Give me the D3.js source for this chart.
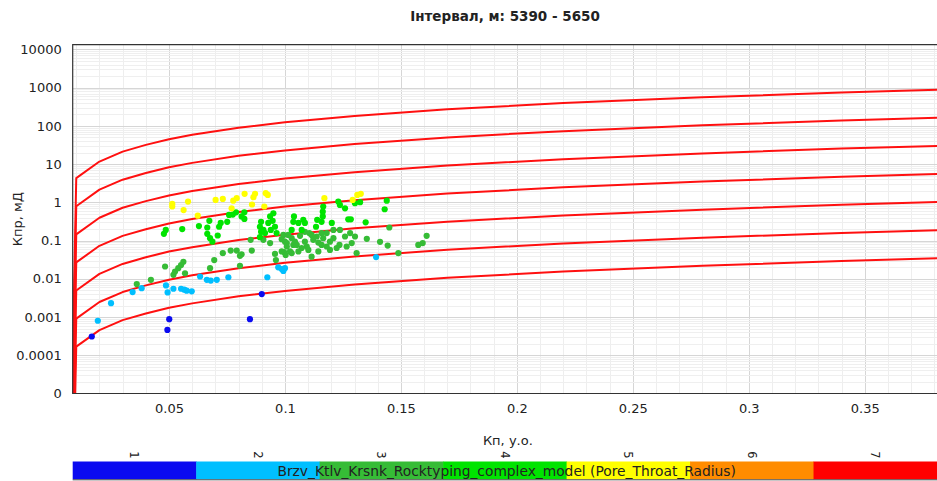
<!DOCTYPE html>
<html>
<head>
<meta charset="utf-8">
<script src="https://cdn.jsdelivr.net/npm/d3@7"></script>
<style>
  html, body { margin: 0; padding: 0; background: #fff; }
  svg { display: block; }
  text { font-family: "DejaVu Sans", Verdana, sans-serif; fill: #222; }
</style>
</head>
<body>
<svg id="chart" width="937" height="481"></svg>
<script>
// ---- data ----------------------------------------------------------------
const chartTitle = "Інтервал, м: 5390 - 5650";
const xTitle = "Кп, у.о.";
const yTitle = "Кпр, мД";
const legendTitle = "Brzv_Ktlv_Krsnk_Rocktyping_complex_model (Pore_Throat_Radius)";

const xTicks = [0.05, 0.1, 0.15, 0.2, 0.25, 0.3, 0.35];
const yTicks = [1e-5, 1e-4, 1e-3, 1e-2, 1e-1, 1, 10, 100, 1000, 10000];
const yTickLabels = ["0", "0.0001", "0.001", "0.01", "0.1", "1", "10", "100", "1000", "10000"];

// porosity samples of the rock-type boundary curves
const curvePhi = [0, 0.01, 0.02, 0.03, 0.04, 0.05, 0.06, 0.08, 0.10, 0.13, 0.17, 0.22, 0.28, 0.34, 0.39];
// permeability (mD) of each boundary curve at those porosities
const boundary1 = [0, 4.3, 11.7, 21.3, 31.9, 44.9, 58.5, 89.7, 124, 182, 272, 397, 562, 751, 916];
const boundary2 = [0, 0.79, 2.15, 3.92, 5.87, 8.27, 10.8, 16.5, 22.8, 33.5, 50.1, 73.1, 103.5, 138, 169];
const boundary3 = [0, 0.146, 0.397, 0.722, 1.08, 1.52, 1.98, 3.04, 4.20, 6.17, 9.22, 13.5, 19.1, 25.5, 31.1];
const boundary4 = [0, 0.0269, 0.0731, 0.133, 0.199, 0.281, 0.366, 0.561, 0.775, 1.14, 1.70, 2.48, 3.51, 4.69, 5.73];
const boundary5 = [0, 0.00494, 0.01345, 0.0245, 0.0367, 0.0516, 0.0672, 0.103, 0.1425, 0.209, 0.313, 0.456, 0.646, 0.863, 1.053];
const boundary6 = [0, 0.00091, 0.00248, 0.00451, 0.00675, 0.0095, 0.0124, 0.019, 0.0262, 0.0385, 0.0576, 0.084, 0.119, 0.159, 0.194];
const boundary7 = [0, 0.000168, 0.000456, 0.00083, 0.00124, 0.00175, 0.00228, 0.0035, 0.00483, 0.0071, 0.0106, 0.0155, 0.0219, 0.0293, 0.0357];

// core samples [porosity, permeability mD] by rock type
const rockType1 = [[0.0167,0.00031],[0.0501,0.00088],[0.0493,0.00046],[0.0900,0.0040],[0.0849,0.00088]];
const rockType2 = [
  [0.0343,0.0045],[0.0382,0.0057],[0.0250,0.0023],[0.0193,0.0008],[0.0487,0.0067],[0.0494,0.0044],
  [0.0519,0.0055],[0.0552,0.0055],[0.0566,0.0052],[0.0576,0.0049],[0.0598,0.0047],[0.0634,0.0115],
  [0.0663,0.0094],[0.0680,0.0090],[0.0706,0.0094],[0.0756,0.011],[0.0924,0.011],[0.0971,0.020],
  [0.0986,0.018],[0.0993,0.016],[0.1393,0.037],[0.1000,0.019]
];
const rockType3 = [
  [0.0483,0.021],[0.0519,0.0127],[0.0526,0.0155],[0.0540,0.019],[0.0552,0.023],[0.0562,0.028],
  [0.0569,0.014],[0.0361,0.0073],[0.0422,0.0094],[0.0732,0.047],[0.0766,0.055],[0.0792,0.055],
  [0.0813,0.044],[0.0857,0.055],[0.0695,0.031],[0.0677,0.019],[0.0806,0.022],[0.0957,0.045],
  [0.0961,0.031],[0.0996,0.050],[0.1003,0.042],[0.1029,0.047],[0.1008,0.086],[0.1036,0.077],
  [0.0936,0.086],[0.0852,0.105],[0.0907,0.105],[0.0986,0.109],[0.0993,0.141],[0.1014,0.141],
  [0.1000,0.094],[0.1029,0.116],[0.1043,0.094],[0.1065,0.133],[0.1086,0.094],[0.1094,0.070],
  [0.1101,0.057],[0.1115,0.038],[0.1122,0.105],[0.1137,0.128],[0.1144,0.089],[0.1158,0.077],
  [0.1165,0.116],[0.1180,0.157],[0.1180,0.070],[0.1194,0.094],[0.1209,0.116],[0.1209,0.19],
  [0.1237,0.19],[0.1235,0.077],[0.1259,0.128],[0.1266,0.070],[0.1281,0.157],[0.1288,0.086],
  [0.1302,0.128],[0.0986,0.052],[0.1022,0.052],[0.1072,0.064],[0.1051,0.077],[0.1105,0.157],
  [0.1450,0.22],[0.1353,0.111],[0.1410,0.093],[0.1443,0.074],[0.1309,0.047],[0.1489,0.047],
  [0.1575,0.077],[0.1594,0.086],[0.1611,0.133],[0.0806,0.040],[0.1008,0.070],[0.1058,0.052],
  [0.1144,0.052],[0.1194,0.057],[0.1223,0.064],[0.1115,0.141],[0.1158,0.157],[0.1086,0.17]
];
const rockType4 = [
  [0.0486,0.19],[0.0478,0.15],[0.0557,0.20],[0.0629,0.24],[0.0674,0.33],[0.0665,0.22],
  [0.0665,0.15],[0.0677,0.116],[0.0687,0.094],[0.0710,0.136],[0.0723,0.29],[0.0716,0.23],
  [0.0751,0.31],[0.0759,0.47],[0.0775,0.48],[0.0789,0.55],[0.0825,0.55],[0.0813,0.43],
  [0.0825,0.37],[0.0897,0.31],[0.0892,0.23],[0.0907,0.19],[0.0897,0.17],[0.0928,0.29],
  [0.0936,0.43],[0.0950,0.52],[0.0947,0.33],[0.0957,0.23],[0.0964,0.157],[0.0939,0.19],
  [0.0914,0.157],[0.0892,0.123],[0.1039,0.43],[0.1036,0.31],[0.1058,0.29],[0.1079,0.35],
  [0.1086,0.29],[0.1072,0.19],[0.1029,0.19],[0.1165,0.78],[0.1163,0.57],[0.1163,0.43],
  [0.1158,0.31],[0.1139,0.35],[0.1134,0.23],[0.1202,0.29],[0.1230,1.05],[0.1237,0.86],
  [0.1259,0.70],[0.1273,0.36],[0.1302,0.95],[0.1324,1.01],[0.1439,1.11],[0.1430,0.66],
  [0.1348,0.30],[0.1284,0.36]
];
const rockType5 = [
  [0.0514,0.91],[0.0514,0.78],[0.0582,1.05],[0.0563,0.63],[0.0624,0.45],[0.0701,1.16],
  [0.0732,1.23],[0.0777,1.11],[0.0792,1.29],[0.0770,0.70],[0.0826,1.67],[0.0871,1.67],
  [0.0864,1.37],[0.0858,0.88],[0.0917,1.74],[0.0926,1.57],[0.0911,0.78],[0.1170,1.29],
  [0.1312,1.57],[0.1327,1.67],[0.1292,1.16]
];
const rockType6 = [];
const rockType7 = [];

const rockTypeLabels = ["1", "2", "3", "4", "5", "6", "7"];

// ---- styles ----------------------------------------------------------------
const rockTypeColors = ["#0a0af0", "#00bfff", "#36bc36", "#00e400", "#ffff00", "#ff8c00", "#ff0000"];
const W = 937, H = 481;
const plot = { left: 72.7, right: 937, top: 44.7, bottom: 393.5 };

const svg = d3.select("#chart");

const x = d3.scaleLinear().domain([0.00847, 0.38118]).range([plot.left, plot.right]);
const y = d3.scaleLog().domain([1e-5, Math.pow(10, 4.125)]).range([plot.bottom, plot.top]);

// clip region for everything drawn inside the frame
svg.append("defs").append("clipPath").attr("id", "plotClip")
  .append("rect")
  .attr("x", plot.left).attr("y", plot.top)
  .attr("width", plot.right - plot.left).attr("height", plot.bottom - plot.top);

const grid = svg.append("g").attr("clip-path", "url(#plotClip)");

// minor / major vertical grid
const xMinor = d3.range(1, 39).map(i => i / 100);
grid.selectAll("line.vx").data(xMinor).join("line")
  .attr("x1", d => Math.round(x(d)) + 0.5).attr("x2", d => Math.round(x(d)) + 0.5)
  .attr("y1", plot.top).attr("y2", plot.bottom)
  .attr("stroke", (d, i) => ((i + 1) % 5 === 0) ? "#d6d6d6" : "#eeeeee")
  .attr("stroke-width", 1);

// minor / major horizontal grid (log decades)
const yGrid = [];
for (let e = -5; e <= 4; e++) {
  for (let m = 1; m <= 9; m++) yGrid.push({ v: m * Math.pow(10, e), major: m === 1 });
}
grid.selectAll("line.hy").data(yGrid.filter(d => d.v <= y.domain()[1])).join("line")
  .attr("x1", plot.left).attr("x2", plot.right)
  .attr("y1", d => Math.round(y(d.v)) + 0.5).attr("y2", d => Math.round(y(d.v)) + 0.5)
  .attr("stroke", d => d.major ? "#d6d6d6" : "#efefef")
  .attr("stroke-width", 1);

// rock-type boundary curves
const boundaries = [boundary1, boundary2, boundary3, boundary4, boundary5, boundary6, boundary7];
const kFloor = 1e-30;
const line = d3.line()
  .x(d => x(d[0]))
  .y(d => y(d[1] > 0 ? d[1] : kFloor));
const curves = svg.append("g").attr("clip-path", "url(#plotClip)");
curves.selectAll("path").data(boundaries).join("path")
  .attr("d", ks => line(ks.map((k, i) => [curvePhi[i], k])))
  .attr("fill", "none")
  .attr("stroke", "#ff1010")
  .attr("stroke-width", 2)
  .attr("stroke-linejoin", "round");

// core samples coloured by rock type
const rockTypes = [rockType1, rockType2, rockType3, rockType4, rockType5, rockType6, rockType7];
const pts = svg.append("g").attr("clip-path", "url(#plotClip)");
rockTypes.forEach((arr, t) => {
  pts.append("g").selectAll("circle").data(arr).join("circle")
    .attr("cx", d => x(d[0])).attr("cy", d => y(d[1]))
    .attr("r", 3.1)
    .attr("fill", rockTypeColors[t]);
});

// frame (left, top, bottom)
svg.append("path")
  .attr("d", `M${W + 2},${plot.top} H${plot.left} V${plot.bottom} H${W + 2}`)
  .attr("fill", "none").attr("stroke", "#333").attr("stroke-width", 1.2);

// axes labels
const xAxis = d3.axisBottom(x).tickValues(xTicks).tickSize(0).tickPadding(10)
  .tickFormat(d3.format("~g"));
const gx = svg.append("g").attr("transform", `translate(0,${plot.bottom})`).call(xAxis);
gx.select(".domain").remove();
gx.selectAll("text").attr("font-size", 13).attr("font-family", "DejaVu Sans").attr("fill", "#222");

const yAxis = d3.axisLeft(y).tickValues(yTicks).tickSize(0).tickPadding(11)
  .tickFormat((d, i) => yTickLabels[i]);
const gy = svg.append("g").attr("transform", `translate(${plot.left},0)`).call(yAxis);
gy.select(".domain").remove();
gy.selectAll("text").attr("font-size", 13).attr("font-family", "DejaVu Sans").attr("fill", "#222");

svg.append("text")
  .attr("x", 505).attr("y", 16)
  .attr("text-anchor", "middle").attr("dominant-baseline", "central")
  .attr("font-size", 13.5).attr("font-weight", "bold").attr("fill", "#111")
  .text(chartTitle);

svg.append("text")
  .attr("x", (plot.left + plot.right) / 2 + 3).attr("y", 440)
  .attr("text-anchor", "middle").attr("dominant-baseline", "central")
  .attr("font-size", 13)
  .text(xTitle);

svg.append("text")
  .attr("transform", `translate(17,${(plot.top + plot.bottom) / 2}) rotate(-90)`)
  .attr("text-anchor", "middle").attr("dominant-baseline", "central")
  .attr("font-size", 13)
  .text(yTitle);

// rock-type colour bar
const bar = d3.scaleBand().domain(rockTypeLabels).range([plot.left, W]).paddingInner(0).paddingOuter(0);
const barTop = 461.5, barBottom = 479.3;
const gBar = svg.append("g");
gBar.selectAll("rect").data(rockTypeLabels).join("rect")
  .attr("x", d => bar(d)).attr("y", barTop)
  .attr("width", bar.bandwidth() + 0.5).attr("height", barBottom - barTop)
  .attr("fill", (d, i) => rockTypeColors[i]);
gBar.append("line")
  .attr("x1", plot.left).attr("x2", W).attr("y1", barBottom + 0.5).attr("y2", barBottom + 0.5)
  .attr("stroke", "#444").attr("stroke-width", 1);
gBar.selectAll("text.lbl").data(rockTypeLabels).join("text")
  .attr("class", "lbl")
  .attr("transform", d => `translate(${bar(d) + bar.bandwidth() / 2},455) rotate(90)`)
  .attr("text-anchor", "middle").attr("dominant-baseline", "central")
  .attr("font-size", 11.5).attr("fill", "#333")
  .text(d => d);
gBar.append("text")
  .attr("x", 506.7).attr("y", 470.8)
  .attr("text-anchor", "middle").attr("dominant-baseline", "central")
  .attr("font-size", 13.8).attr("fill", "#1a1a1a")
  .text(legendTitle);
</script>
</body>
</html>
